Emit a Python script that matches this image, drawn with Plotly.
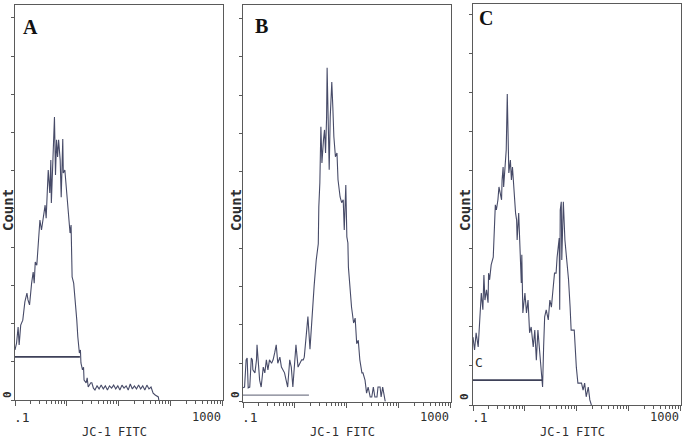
import numpy as np
import plotly.graph_objects as go

W, H = 687, 447

# ---------------- data (x = log10 JC-1 FITC intensity, y = cell count) -------------
A_LOG_FITC = [-1.00, -0.97, -0.94, -0.92, -0.89, -0.85, -0.81, -0.77, -0.75, -0.72,
              -0.68, -0.65, -0.63, -0.61, -0.58, -0.56, -0.53, -0.52, -0.49, -0.45,
              -0.42, -0.40, -0.38, -0.36, -0.33, -0.31, -0.30, -0.27, -0.24, -0.22,
              -0.20, -0.18, -0.16, -0.13, -0.11, -0.08, -0.07, -0.04, 0.00, 0.03,
              0.06, 0.08, 0.10, 0.13, 0.16, 0.19, 0.21, 0.24, 0.26, 0.27,
              0.30, 0.32, 0.33, 0.37, 0.39, 0.41, 0.46, 0.48, 0.51,
              0.54, 0.58, 0.62, 0.66, 0.70, 0.74, 0.78, 0.82, 0.86, 0.90,
              0.94, 0.98, 1.02, 1.06, 1.10, 1.14, 1.18, 1.22, 1.26, 1.30,
              1.34, 1.38, 1.42, 1.46, 1.50, 1.54, 1.58, 1.62,
              1.66, 1.70, 1.76, 1.77]
A_COUNT = [13.1, 14.9, 19.1, 14.4, 19.6, 20.9, 25.7, 28.0, 26.2, 24.9,
           30.6, 33.5, 30.6, 36.1, 35.3, 39.3, 42.7, 47.1, 44.5, 49.0,
           51.0, 47.6, 55.8, 60.2, 54.2, 62.8, 51.6, 65.4, 74.1, 58.9,
           68.1, 63.6, 68.1, 62.8, 53.1, 68.3, 59.4, 60.2, 53.1, 49.0,
           43.7, 45.8, 32.2, 30.6, 26.2, 20.9, 16.5, 12.3, 13.1, 9.7,
           7.9, 8.6, 5.2, 4.5, 5.8, 3.4, 4.5, 4.5, 3.1,
           2.6, 3.7, 2.9, 3.9, 2.9, 3.7, 2.6, 3.7, 3.1, 3.9,
           2.9, 3.7, 2.6, 3.9, 3.1, 3.7, 2.6, 4.2, 2.9, 3.7,
           2.9, 3.9, 2.9, 3.7, 2.6, 3.9, 2.9, 3.4,
           1.8, 1.3, 0.8, 0.0]

B_LOG_FITC = [-1.00, -0.97, -0.94, -0.92, -0.90, -0.87, -0.84, -0.82, -0.81, -0.77,
              -0.74, -0.73, -0.69, -0.68, -0.65, -0.61, -0.58, -0.55, -0.52, -0.49,
              -0.45, -0.42, -0.39, -0.36, -0.33, -0.29, -0.26, -0.20, -0.17, -0.14,
              -0.10, -0.07, -0.04, 0.00, 0.02, 0.06, 0.09, 0.13, 0.16, 0.18,
              0.22, 0.25, 0.29, 0.32, 0.35, 0.37, 0.41, 0.45, 0.46, 0.48,
              0.50, 0.52, 0.55, 0.57, 0.59, 0.61, 0.62, 0.64, 0.66, 0.68,
              0.71, 0.73, 0.75, 0.78, 0.81, 0.83, 0.85, 0.87, 0.90, 0.93,
              0.95, 0.98, 1.00, 1.02, 1.03, 1.06, 1.09, 1.13, 1.16, 1.19,
              1.22, 1.25, 1.29, 1.31, 1.35, 1.38, 1.41, 1.45, 1.48, 1.51,
              1.54, 1.58, 1.60, 1.64, 1.66, 1.69, 1.72, 1.74]
B_COUNT = [3.6, 3.8, 10.9, 11.4, 3.6, 3.8, 11.4, 10.9, 8.3, 7.5,
           10.9, 14.8, 7.5, 5.6, 3.8, 9.0, 7.5, 10.9, 8.3, 10.9,
           10.0, 10.9, 12.7, 14.8, 10.0, 11.6, 9.0, 7.5, 5.6, 3.8,
           10.9, 9.0, 3.8, 10.0, 14.8, 9.0, 10.0, 10.9, 10.9, 11.6,
           17.6, 22.2, 13.7, 20.5, 28.4, 30.2, 36.9, 41.2, 50.8, 57.1,
           71.7, 62.3, 68.3, 70.9, 64.9, 74.3, 87.1, 76.1, 60.5, 74.3,
           83.4, 76.9, 69.1, 63.9, 64.9, 57.9, 55.3, 53.4, 51.9, 52.7,
           44.8, 56.5, 43.0, 41.4, 35.1, 29.1, 24.7, 20.5, 21.8, 15.1,
           16.0, 10.9, 7.5, 7.5, 5.6, 2.2, 3.8, 1.2, 1.2, 3.8,
           1.2, 1.2, 3.8, 3.8, 1.2, 3.8, 0.9, 0.0]

C_LOG_FITC = [-1.00, -0.97, -0.94, -0.90, -0.87, -0.84, -0.81, -0.79, -0.77, -0.74,
              -0.71, -0.70, -0.68, -0.65, -0.61, -0.58, -0.57, -0.55, -0.52, -0.50,
              -0.45, -0.44, -0.42, -0.41, -0.39, -0.36, -0.34, -0.33, -0.31, -0.28,
              -0.26, -0.24, -0.22, -0.20, -0.18, -0.16, -0.15, -0.12, -0.10, -0.07,
              -0.06, -0.04, 0.00, 0.03, 0.06, 0.09, 0.12, 0.16, 0.19, 0.22,
              0.25, 0.29, 0.32, 0.34, 0.36, 0.38, 0.41, 0.45, 0.48, 0.51,
              0.54, 0.57, 0.60, 0.62, 0.66, 0.67, 0.68, 0.70, 0.71, 0.74,
              0.77, 0.81, 0.84, 0.87, 0.89, 0.95, 0.97, 0.99, 1.02, 1.06,
              1.09, 1.12, 1.15, 1.18, 1.22, 1.25, 1.28]
C_COUNT = [17.4, 14.1, 18.5, 14.9, 21.8, 28.7, 24.4, 33.3, 26.9, 29.5,
           26.2, 33.8, 32.1, 35.9, 37.9, 45.6, 51.3, 50.0, 52.6, 55.9,
           52.6, 57.7, 61.0, 55.9, 61.0, 65.4, 79.7, 67.9, 59.5, 62.8,
           57.7, 61.0, 55.9, 52.6, 49.2, 47.4, 42.3, 49.2, 41.5, 31.3,
           38.5, 23.6, 28.7, 23.6, 26.9, 18.5, 20.0, 14.9, 19.2, 11.5,
           19.2, 13.3, 7.2, 4.6, 14.9, 22.6, 24.4, 21.8, 26.9, 25.1,
           29.5, 33.8, 33.8, 37.9, 42.8, 24.4, 50.0, 52.1, 37.2, 52.1,
           42.3, 36.4, 32.1, 25.1, 19.2, 19.2, 14.1, 9.7, 5.6, 5.6,
           5.6, 3.8, 5.6, 2.1, 4.6, 1.3, 0.0]

PANEL_NAMES = ["A", "B", "C"]
GATE_LOG = {"A": [-1.0, 0.25], "B": [-1.0, 0.27], "C": [-1.0, 0.34]}
GATE_COUNT = {"A": 11.3, "B": 1.7, "C": 6.4}
GATE_LABEL = {"A": "", "B": "", "C": "C"}

Y_TICKS = list(range(0, 101, 10))
X_DECADES = [0.1, 1, 10, 100, 1000]
X_DECADE_TEXT = [".1", "", "", "", "1000"]
X_MINOR = [m * d for d in [0.1, 1, 10, 100] for m in range(2, 10)]

X_TITLE = "JC-1 FITC"
Y_TITLE = "Count"

# ---------------- layout geometry (pixels) ----------------
# left, right, top, bottom(zero line), y range top
BOX = {
    "A": (15, 222.7, 5, 400, 103.4),
    "B": (243, 450.7, 5, 401.6, 103.5),
    "C": (473, 680.7, 4, 405, 102.8),
}

DATA = {
    "A": (A_LOG_FITC, A_COUNT),
    "B": (B_LOG_FITC, B_COUNT),
    "C": (C_LOG_FITC, C_COUNT),
}

CURVE = "#474b68"
AXIS = "#5a5a5a"
TXT = "#2e2e2e"
MONO = "DejaVu Sans Mono"

fig = go.Figure()
annotations = []


def px(x):
    return x / W


def py(y):
    return 1 - y / H


def label(x, y, text, size, family=MONO, angle=0, xanchor="center",
          color=TXT):
    annotations.append(dict(
        x=px(x), y=py(y), xref="paper", yref="paper", text=text,
        textangle=angle, showarrow=False, xanchor=xanchor, yanchor="middle",
        font=dict(family=family, size=size, color=color)))


for i, name in enumerate(PANEL_NAMES):
    n = "" if i == 0 else str(i + 1)
    xa, ya = "x" + n, "y" + n
    left, right, top, bottom, ytop = BOX[name]
    lx, cnt = DATA[name]
    fig.add_trace(go.Scatter(
        x=10 ** np.array(lx), y=cnt, mode="lines",
        line=dict(color=CURVE, width=1.1), xaxis=xa, yaxis=ya,
        showlegend=False, hoverinfo="skip"))
    g = GATE_LOG[name]
    fig.add_trace(go.Scatter(
        x=10 ** np.array(g), y=[GATE_COUNT[name]] * 2, mode="lines",
        line=dict(color="#3e4158" if name != "B" else "#7a7c8c",
                  width=1.8 if name != "B" else 1.2),
        xaxis=xa, yaxis=ya, showlegend=False, hoverinfo="skip"))
    if GATE_LABEL[name]:
        annotations.append(dict(
            x=g[0] + 0.11, y=GATE_COUNT[name] + 4.6,
            xref=xa, yref=ya, text=GATE_LABEL[name], showarrow=False,
            xanchor="center", yanchor="middle",
            font=dict(family=MONO, size=13, color=TXT)))

    fig.layout["xaxis" + n] = dict(
        domain=[px(left), px(right)], anchor=ya, type="log", range=[-1, 3],
        showgrid=False, zeroline=False, showline=True, linecolor=AXIS,
        linewidth=1.2, mirror=True, ticks="outside", ticklen=5,
        tickcolor=AXIS, tickwidth=1, tickmode="array", tickvals=X_DECADES,
        ticktext=X_DECADE_TEXT, showticklabels=False,
        minor=dict(tickmode="array", tickvals=X_MINOR, ticks="outside",
                   ticklen=3, tickcolor=AXIS, tickwidth=1),
        fixedrange=True)
    fig.layout["yaxis" + n] = dict(
        domain=[py(bottom), py(top)], anchor=xa, range=[0, ytop],
        showgrid=False, zeroline=False, showline=True, linecolor=AXIS,
        linewidth=1.2, mirror=True, ticks="outside", ticklen=3,
        tickcolor=AXIS, tickwidth=1, tickmode="array", tickvals=Y_TICKS,
        showticklabels=False, fixedrange=True)

    # panel letter
    lp = {"A": (30, 27), "B": (261, 26), "C": (486, 18)}[name]
    label(lp[0], lp[1], "<b>%s</b>" % name, 20, family="Liberation Serif",
          color="#111")
    # y axis zero label (rotated)
    zp = {"A": (7, 395), "B": (235, 395), "C": (464, 397)}[name]
    label(zp[0], zp[1], "<b>0</b>", 11, angle=-90)
    # y title
    yt = {"A": 8, "B": 236, "C": 465}[name]
    label(yt, 210, "<b>%s</b>" % Y_TITLE, 14, angle=-90)
    # x tick labels
    label(left - 3, 417, ".1", 13, xanchor="left")
    label(right + 0.5, 417, "1000", 12, xanchor="right")
    # x title
    xt = {"A": 114.5, "B": 342.3, "C": 572}[name]
    label(xt, 432, X_TITLE, 12)

fig.update_layout(
    width=W, height=H, margin=dict(l=0, r=0, t=0, b=0),
    paper_bgcolor="white", plot_bgcolor="white",
    annotations=annotations, showlegend=False)

fig.write_html("out.html", config={"displayModeBar": False},
               post_script="document.body.style.margin='0';"
                           "document.body.style.padding='0';")
